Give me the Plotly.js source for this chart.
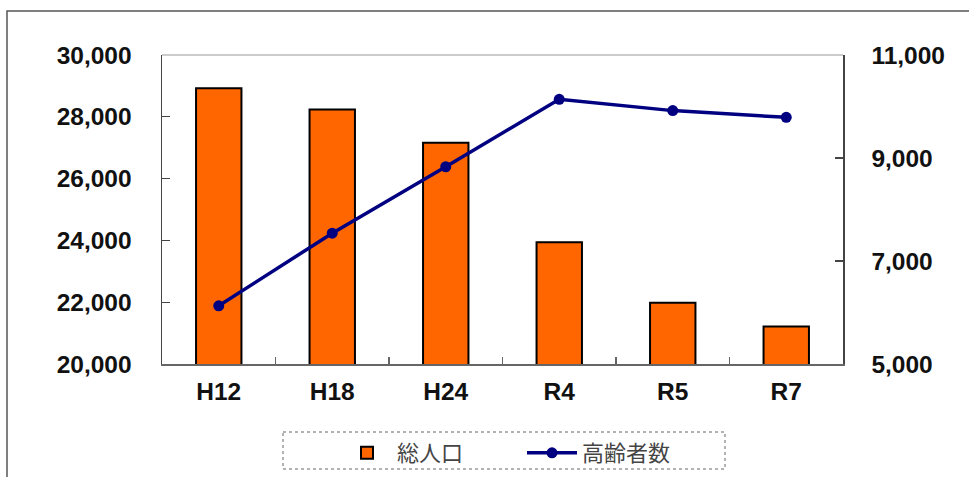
<!DOCTYPE html>
<html>
<head>
<meta charset="utf-8">
<script src="https://cdn.plot.ly/plotly-3.0.1.min.js"></script>
<style>
html,body{margin:0;padding:0;background:#fff;}
#chart{width:969px;height:477px;}
</style>
</head>
<body>
<div id="chart"></div>
<script>
const categories = ["H12", "H18", "H24", "R4", "R5", "R7"];
const totalPopulation = [28920, 28240, 27160, 23940, 21980, 21210];
const elderlyCount = [6130, 7540, 8830, 10140, 9920, 9790];
const seriesNames = ["総人口", "高齢者数"];
const leftTicks = [20000, 22000, 24000, 26000, 28000, 30000];
const rightTicks = [5000, 7000, 9000, 11000];

const L = 162, R = 126, T = 55, B = 113;
const W = 969, H = 477;
const pw = W - L - R, ph = H - T - B;
const px = x => (x - L) / pw;
const py = y => (H - B - y) / ph;

const tickFont = {family: "Liberation Sans, Arial, sans-serif", size: 24.5, color: "#111", weight: "bold"};

const traces = [
  {
    type: "bar",
    x: categories,
    y: totalPopulation,
    name: seriesNames[0],
    marker: {color: "#FF6600", line: {color: "#000", width: 2}},
    yaxis: "y"
  },
  {
    type: "scatter",
    mode: "lines+markers",
    x: categories,
    y: elderlyCount,
    name: seriesNames[1],
    line: {color: "#000080", width: 3.5},
    marker: {color: "#000080", size: 11, symbol: "circle"},
    yaxis: "y2",
    cliponaxis: false
  }
];

const layout = {
  width: W, height: H,
  margin: {l: L, r: R, t: T, b: B, pad: 0, autoexpand: false},
  paper_bgcolor: "#fff",
  plot_bgcolor: "#fff",
  bargap: 0.6,
  showlegend: true,
  legend: {
    orientation: "h",
    x: px(337), xanchor: "left",
    y: py(432), yanchor: "top",
    font: {family: "Noto Sans CJK JP, sans-serif", size: 22, color: "#444"},
    itemwidth: 50,
    entrywidth: 120,
    bgcolor: "rgba(0,0,0,0)",
    borderwidth: 0
  },
  xaxis: {
    type: "category",
    showline: true, linecolor: "#666", linewidth: 1.5,
    ticks: "inside", ticklen: 7, tickcolor: "#666", tickwidth: 1.2,
    tickson: "boundaries",
    showgrid: false, zeroline: false,
    tickfont: tickFont,
    ticklabelstandoff: 5
  },
  yaxis: {
    range: [20000, 30000],
    tickvals: leftTicks,
    tickformat: ",d",
    showline: true, linecolor: "#444", linewidth: 1.5,
    ticks: "inside", ticklen: 8, tickcolor: "#444", tickwidth: 1.2,
    showgrid: false, zeroline: false,
    tickfont: tickFont,
    ticklabelstandoff: 24
  },
  yaxis2: {
    overlaying: "y", side: "right",
    range: [5000, 11000],
    tickvals: rightTicks,
    tickformat: ",d",
    showline: true, linecolor: "#444", linewidth: 1.5,
    ticks: "inside", ticklen: 8, tickcolor: "#444", tickwidth: 1.2,
    showgrid: false, zeroline: false,
    tickfont: tickFont,
    ticklabelstandoff: 22
  },
  shapes: [
    {type: "line", xref: "paper", yref: "paper", x0: 0, x1: 1, y0: 1, y1: 1,
     line: {color: "#999", width: 1}},
    {type: "rect", xref: "paper", yref: "paper",
     x0: px(7), x1: px(975), y0: py(11), y1: py(485),
     line: {color: "#555", width: 1.5}, fillcolor: "rgba(0,0,0,0)", layer: "below"},
    {type: "rect", xref: "paper", yref: "paper",
     x0: px(283), x1: px(725), y0: py(432), y1: py(469),
     line: {color: "#666", width: 1, dash: "dot"}, fillcolor: "rgba(0,0,0,0)"}
  ]
};

Plotly.newPlot("chart", traces, layout, {displayModeBar: false, staticPlot: true});
</script>
</body>
</html>
